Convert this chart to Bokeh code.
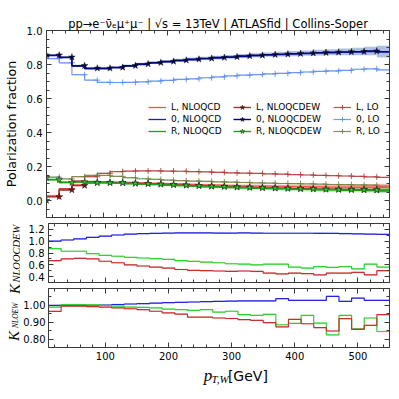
import math
from bokeh.plotting import figure
from bokeh.models import (Range1d, FixedTicker, LinearAxis, Legend, LegendItem, NumeralTickFormatter, Title)
from bokeh.core.properties import value
from bokeh.layouts import column, row
from bokeh.embed import file_html
from bokeh.resources import INLINE

# ---------------- data ----------------
BIN_EDGES = list(range(10, 551, 20))          # 27 bins of 20 GeV, 10..550

L_NLOQCD = [0.026, 0.066, 0.090, 0.104, 0.109, 0.108, 0.106, 0.104, 0.101, 0.099, 0.097, 0.094, 0.092, 0.090,
            0.088, 0.086, 0.085, 0.084, 0.083, 0.082, 0.081, 0.080, 0.079, 0.079, 0.078, 0.078, 0.078]
O_NLOQCD = [0.852, 0.840, 0.790, 0.775, 0.775, 0.780, 0.790, 0.800, 0.808, 0.815, 0.822, 0.828, 0.833, 0.838,
            0.842, 0.847, 0.851, 0.855, 0.858, 0.861, 0.864, 0.867, 0.869, 0.871, 0.873, 0.876, 0.873]
R_NLOQCD = [0.124, 0.108, 0.110, 0.112, 0.107, 0.104, 0.100, 0.096, 0.093, 0.090, 0.087, 0.084, 0.081, 0.079,
            0.076, 0.074, 0.072, 0.070, 0.068, 0.066, 0.065, 0.063, 0.062, 0.060, 0.059, 0.058, 0.056]

L_NLOQCDEW = [0.022, 0.062, 0.088, 0.106, 0.106, 0.105, 0.102, 0.100, 0.097, 0.094, 0.091, 0.088, 0.085, 0.083,
              0.080, 0.078, 0.076, 0.074, 0.072, 0.070, 0.069, 0.067, 0.066, 0.065, 0.064, 0.063, 0.061]
O_NLOQCDEW = [0.855, 0.843, 0.793, 0.778, 0.778, 0.783, 0.793, 0.803, 0.811, 0.818, 0.825, 0.831, 0.836, 0.841,
              0.845, 0.850, 0.854, 0.858, 0.861, 0.864, 0.867, 0.870, 0.872, 0.874, 0.876, 0.879, 0.876]
R_NLOQCDEW = [0.122, 0.106, 0.108, 0.104, 0.104, 0.103, 0.100, 0.098, 0.095, 0.092, 0.089, 0.086, 0.083, 0.081,
              0.078, 0.076, 0.074, 0.072, 0.070, 0.068, 0.067, 0.065, 0.064, 0.063, 0.062, 0.061, 0.059]
STAR_START = {"L": 0.0, "0": 0.855, "R": 0.135}

L_LO = [0.025, 0.070, 0.115, 0.140, 0.160, 0.170, 0.173, 0.174, 0.174, 0.173, 0.172, 0.170, 0.168, 0.166,
        0.163, 0.161, 0.159, 0.157, 0.155, 0.152, 0.150, 0.148, 0.146, 0.144, 0.142, 0.139, 0.136]
O_LO = [0.835, 0.810, 0.740, 0.708, 0.695, 0.694, 0.695, 0.698, 0.702, 0.707, 0.712, 0.716, 0.722, 0.727,
        0.733, 0.737, 0.741, 0.745, 0.748, 0.752, 0.756, 0.760, 0.762, 0.765, 0.772, 0.774, 0.768]
R_LO = [0.137, 0.127, 0.140, 0.148, 0.148, 0.142, 0.134, 0.128, 0.124, 0.120, 0.117, 0.114, 0.112, 0.110,
        0.108, 0.106, 0.104, 0.102, 0.100, 0.099, 0.098, 0.096, 0.094, 0.093, 0.092, 0.090, 0.085]

L_BAND = [0.008, 0.008, 0.006, 0.005, 0.005, 0.005, 0.005, 0.005, 0.005, 0.006, 0.006, 0.006, 0.007, 0.007,
          0.008, 0.008, 0.009, 0.009, 0.010, 0.010, 0.011, 0.012, 0.013, 0.014, 0.015, 0.017, 0.020]
O_BAND = [0.006, 0.006, 0.006, 0.006, 0.006, 0.007, 0.007, 0.008, 0.008, 0.009, 0.009, 0.010, 0.010, 0.011,
          0.011, 0.012, 0.012, 0.013, 0.014, 0.015, 0.016, 0.017, 0.018, 0.020, 0.022, 0.025, 0.035]
R_BAND = [0.006, 0.006, 0.006, 0.006, 0.006, 0.006, 0.007, 0.007, 0.007, 0.008, 0.008, 0.008, 0.009, 0.009,
          0.009, 0.010, 0.010, 0.010, 0.011, 0.011, 0.012, 0.012, 0.012, 0.013, 0.013, 0.014, 0.015]
LO_BAND = 0.004

K_QCDEW_L = [0.67, 0.70, 0.71, 0.70, 0.66, 0.635, 0.60, 0.58, 0.56, 0.545, 0.52, 0.505, 0.50, 0.495,
             0.49, 0.495, 0.487, 0.46, 0.445, 0.46, 0.45, 0.43, 0.46, 0.46, 0.47, 0.43, 0.50]
K_QCDEW_0 = [1.00, 1.02, 1.04, 1.065, 1.085, 1.105, 1.12, 1.128, 1.133, 1.137, 1.14, 1.14, 1.14, 1.138,
             1.137, 1.14, 1.137, 1.135, 1.135, 1.135, 1.135, 1.134, 1.133, 1.13, 1.125, 1.12, 1.115]
K_QCDEW_R = [0.875, 0.83, 0.83, 0.79, 0.76, 0.745, 0.726, 0.715, 0.704, 0.692, 0.67, 0.658, 0.647, 0.635,
             0.618, 0.613, 0.60, 0.61, 0.61, 0.56, 0.545, 0.57, 0.555, 0.57, 0.53, 0.61, 0.56]

K_EW_L = [0.964, 0.995, 0.995, 0.993, 0.99, 0.985, 0.98, 0.975, 0.965, 0.955, 0.948, 0.93, 0.93, 0.925,
          0.922, 0.915, 0.911, 0.897, 0.872, 0.917, 0.891, 0.868, 0.848, 0.921, 0.858, 0.881, 0.945]
K_EW_0 = [1.0, 1.0, 1.0, 1.0, 1.002, 1.005, 1.008, 1.01, 1.013, 1.016, 1.018, 1.02, 1.022, 1.024,
          1.025, 1.026, 1.026, 1.026, 1.04, 1.03, 1.03, 1.03, 1.053, 1.024, 1.043, 1.03, 1.03]
K_EW_R = [0.99, 1.005, 1.005, 1.003, 1.0, 0.995, 0.99, 0.988, 0.985, 0.978, 0.975, 0.97, 0.975, 0.96,
          0.965, 0.945, 0.941, 0.947, 0.885, 0.893, 0.94, 0.895, 0.825, 0.94, 0.86, 0.925, 0.845]

X_TICKS = [100, 200, 300, 400, 500]
Y_TICKS_MAIN = [0.0, 0.2, 0.4, 0.6, 0.8, 1.0]
Y_TICKS_MID = [0.4, 0.6, 0.8, 1.0, 1.2]
Y_TICKS_BOT = [0.80, 0.90, 1.00]

TITLE = "pp→e⁻ν̄ₑμ⁺μ⁻ | √s = 13TeV | ATLASfid | Collins-Soper"
YLABEL = "Polarization fraction"

# ---------------- styling helpers ----------------
AX = "#3a3a3a"
LABEL_COL_W = 20


def ext(v):
    return list(v) + [v[-1]]


def ticker(major, lo, hi, step):
    n = int(round((hi - lo) / step))
    minor = [round(lo + i * step, 4) for i in range(n + 1)]
    return FixedTicker(ticks=major, minor_ticks=minor)


def style_axis(ax, tk, fmt=None, labels=True, standoff=4):
    ax.ticker = tk
    ax.axis_line_color = AX
    ax.major_tick_line_color = AX
    ax.minor_tick_line_color = AX
    ax.major_tick_in = 5
    ax.major_tick_out = 0
    ax.minor_tick_in = 3
    ax.minor_tick_out = 0
    if labels:
        ax.major_label_text_font = "DejaVu Sans"
        ax.major_label_text_font_size = "10px"
        ax.major_label_text_color = "black"
        ax.major_label_standoff = standoff
        if fmt:
            ax.formatter = NumeralTickFormatter(format=fmt)
    else:
        ax.major_label_text_font_size = "0px"
        ax.major_label_text_alpha = 0
        ax.major_label_standoff = 0


def make_fig(width, left, height, yr, top, bottom, ymaj, ystep, yfmt, xlabels, ystandoff=4, title=None):
    p = figure(width=width, height=height, x_range=Range1d(10, 550), y_range=Range1d(*yr),
               output_backend="svg", toolbar_location=None, title=title,
               min_border_left=left, min_border_right=10, min_border_top=top, min_border_bottom=bottom)
    p.grid.visible = False
    p.outline_line_color = AX
    p.background_fill_color = "white"
    p.border_fill_color = "white"
    style_axis(p.xaxis[0], ticker(X_TICKS, 20, 540, 20), labels=xlabels)
    style_axis(p.yaxis[0], ticker(ymaj, yr[0], yr[1], ystep), fmt=yfmt, standoff=ystandoff)
    ta = LinearAxis()
    style_axis(ta, ticker(X_TICKS, 20, 540, 20), labels=False)
    p.add_layout(ta, "above")
    ra = LinearAxis()
    style_axis(ra, ticker(ymaj, yr[0], yr[1], ystep), labels=False)
    p.add_layout(ra, "right")
    return p


def text_fig(width, height):
    f = figure(width=width, height=height, x_range=Range1d(0, width), y_range=Range1d(0, height),
               output_backend="svg", toolbar_location=None, x_axis_type=None, y_axis_type=None,
               title=None, min_border_left=0, min_border_right=0, min_border_top=0, min_border_bottom=0)
    f.outline_line_color = None
    f.background_fill_color = "white"
    f.border_fill_color = "white"
    return f


def put_text(f, page_top, x_page, y_page, text, font, size, style="normal", angle=0.0, align="left"):
    f.text(x=[x_page], y=[f.height - (y_page - page_top)], text=[text], angle=angle,
           text_align=align, text_baseline="alphabetic", text_font=value(font),
           text_font_size=value(size), text_font_style=style, text_color="black")


def band(p, vals, half, color, alpha):
    hw = half if isinstance(half, list) else [half] * len(vals)
    p.varea_step(x=BIN_EDGES, y1=ext([v - h for v, h in zip(vals, hw)]),
                 y2=ext([v + h for v, h in zip(vals, hw)]),
                 step_mode="after", fill_color=color, fill_alpha=alpha)


# ---------------- main panel ----------------
main_title = Title(text=TITLE, align="center", text_font="DejaVu Sans", text_font_size="11.5px",
                   text_font_style="normal", text_color="black", standoff=0)
p1 = make_fig(399, 46, 220, (-0.1, 1.0), 30, 3, Y_TICKS_MAIN, 0.05, "0.0", False, title=main_title)
p1.yaxis[0].axis_label = YLABEL
p1.yaxis[0].axis_label_text_font = "DejaVu Sans"
p1.yaxis[0].axis_label_text_font_size = "12.7px"
p1.yaxis[0].axis_label_text_font_style = "normal"
p1.yaxis[0].axis_label_text_color = "black"
p1.yaxis[0].axis_label_standoff = 5

band(p1, L_LO, LO_BAND, "#c85050", 0.25)
band(p1, O_LO, LO_BAND, "#6f9cf5", 0.25)
band(p1, R_LO, LO_BAND, "#8a9a5a", 0.25)
band(p1, O_NLOQCDEW, O_BAND, "#4a78b8", 0.45)
band(p1, L_NLOQCD, L_BAND, "#ff3b3b", 0.4)
band(p1, R_NLOQCDEW, R_BAND, "#33cc33", 0.4)

XM = BIN_EDGES[:-1]

lo_specs = [(L_LO, "#b03838", "L, LO"), (O_LO, "#5b8cf0", "0, LO"), (R_LO, "#6f7f3f", "R, LO")]
lo_items = []
for vals, col, lab in lo_specs:
    r = p1.step(x=BIN_EDGES, y=ext(vals), mode="after", line_color=col, line_width=1.2, line_alpha=0.85)
    m = p1.scatter(x=XM, y=[vals[0]] + vals[:-1], marker="cross", size=6, line_color=col, line_width=1,
                   line_alpha=0.85)
    lo_items.append(LegendItem(label=lab, renderers=[r, m]))

qcd_specs = [(L_NLOQCD, "#ff5050", "L, NLOQCD"), (O_NLOQCD, "#1f1fb4", "0, NLOQCD"),
             (R_NLOQCD, "#13a813", "R, NLOQCD")]
qcd_items = []
for vals, col, lab in qcd_specs:
    r = p1.step(x=BIN_EDGES, y=ext(vals), mode="after", line_color=col, line_width=1.3)
    qcd_items.append(LegendItem(label=lab, renderers=[r]))

ew_specs = [(L_NLOQCDEW, "#a83232", "#7f1515", "L, NLOQCDEW", "L"),
            (O_NLOQCDEW, "#000080", "#000050", "0, NLOQCDEW", "0"),
            (R_NLOQCDEW, "#1f9f1f", "#2ecc2e", "R, NLOQCDEW", "R")]
ew_items = []
for vals, col, scol, lab, key in ew_specs:
    r = p1.step(x=BIN_EDGES, y=ext(vals), mode="after", line_color=col, line_width=1.4)
    m = p1.scatter(x=XM, y=[STAR_START[key]] + vals[:-1], marker="star", size=7,
                   fill_color=scol, line_color="#1a1a1a", line_width=0.5)
    ew_items.append(LegendItem(label=lab, renderers=[r, m]))

for items, xloc in [(qcd_items, 102), (ew_items, 187), (lo_items, 287)]:
    leg = Legend(items=items, location=(xloc, 80), glyph_width=18, glyph_height=12, label_height=12,
                 label_standoff=5, spacing=0, padding=0, margin=0, border_line_alpha=0,
                 background_fill_alpha=0, label_text_font="DejaVu Sans", label_text_font_size="9px",
                 label_text_color="black")
    p1.add_layout(leg)

# ---------------- K_NLOQCDEW panel ----------------
p2 = make_fig(379, 26, 63, (0.3, 1.3), 3, 1, Y_TICKS_MID, 0.1, "0.0", False)
for vals, col, pale in [(K_QCDEW_0, "#2424e0", "#8080f0"), (K_QCDEW_R, "#2fd02f", "#90e890"),
                        (K_QCDEW_L, "#c83030", "#e09090")]:
    band(p2, vals, 0.012, pale, 0.5)
    p2.step(x=BIN_EDGES, y=ext(vals), mode="after", line_color=col, line_width=1.2)

# ---------------- K_NLOEW panel ----------------
p3 = make_fig(379, 26, 80, (0.75, 1.10), 5, 16, Y_TICKS_BOT, 0.05, "0.00", True, ystandoff=3)
for vals, col, pale in [(K_EW_0, "#2424e0", "#8080f0"), (K_EW_R, "#2fd02f", "#90e890"),
                        (K_EW_L, "#c83030", "#e09090")]:
    band(p3, vals, 0.004, pale, 0.5)
    p3.step(x=BIN_EDGES, y=ext(vals), mode="after", line_color=col, line_width=1.2)

# ---------------- text strips (K labels, x label) ----------------
label_f = text_fig(LABEL_COL_W, 143)              # page y 220..363, x 0..20
half_pi = math.pi / 2
put_text(label_f, 220, 14.5, 293.5, "K", "Liberation Serif", "15px", "italic", angle=half_pi)
put_text(label_f, 220, 15.5, 282, "NLOQCDEW", "Liberation Serif", "10.5px", "italic", angle=half_pi)
put_text(label_f, 220, 13.5, 340.5, "K", "Liberation Serif", "15px", "italic", angle=half_pi)
put_text(label_f, 220, 14.5, 327.5, "NLOEW", "Liberation Serif", "7.5px", "italic", angle=half_pi)

xlab_f = text_fig(399, 30)                        # page y 363..393
put_text(xlab_f, 363, 183, 375, "p", "Liberation Serif", "17px", "italic")
put_text(xlab_f, 363, 192, 378, "T,W", "Liberation Serif", "11px", "italic")
put_text(xlab_f, 363, 211, 375, "[GeV]", "DejaVu Sans", "14px")

layout = column(p1, row(label_f, column(p2, p3, spacing=0), spacing=0), xlab_f, spacing=0)
open("out.html", "w").write(file_html(layout, INLINE))
